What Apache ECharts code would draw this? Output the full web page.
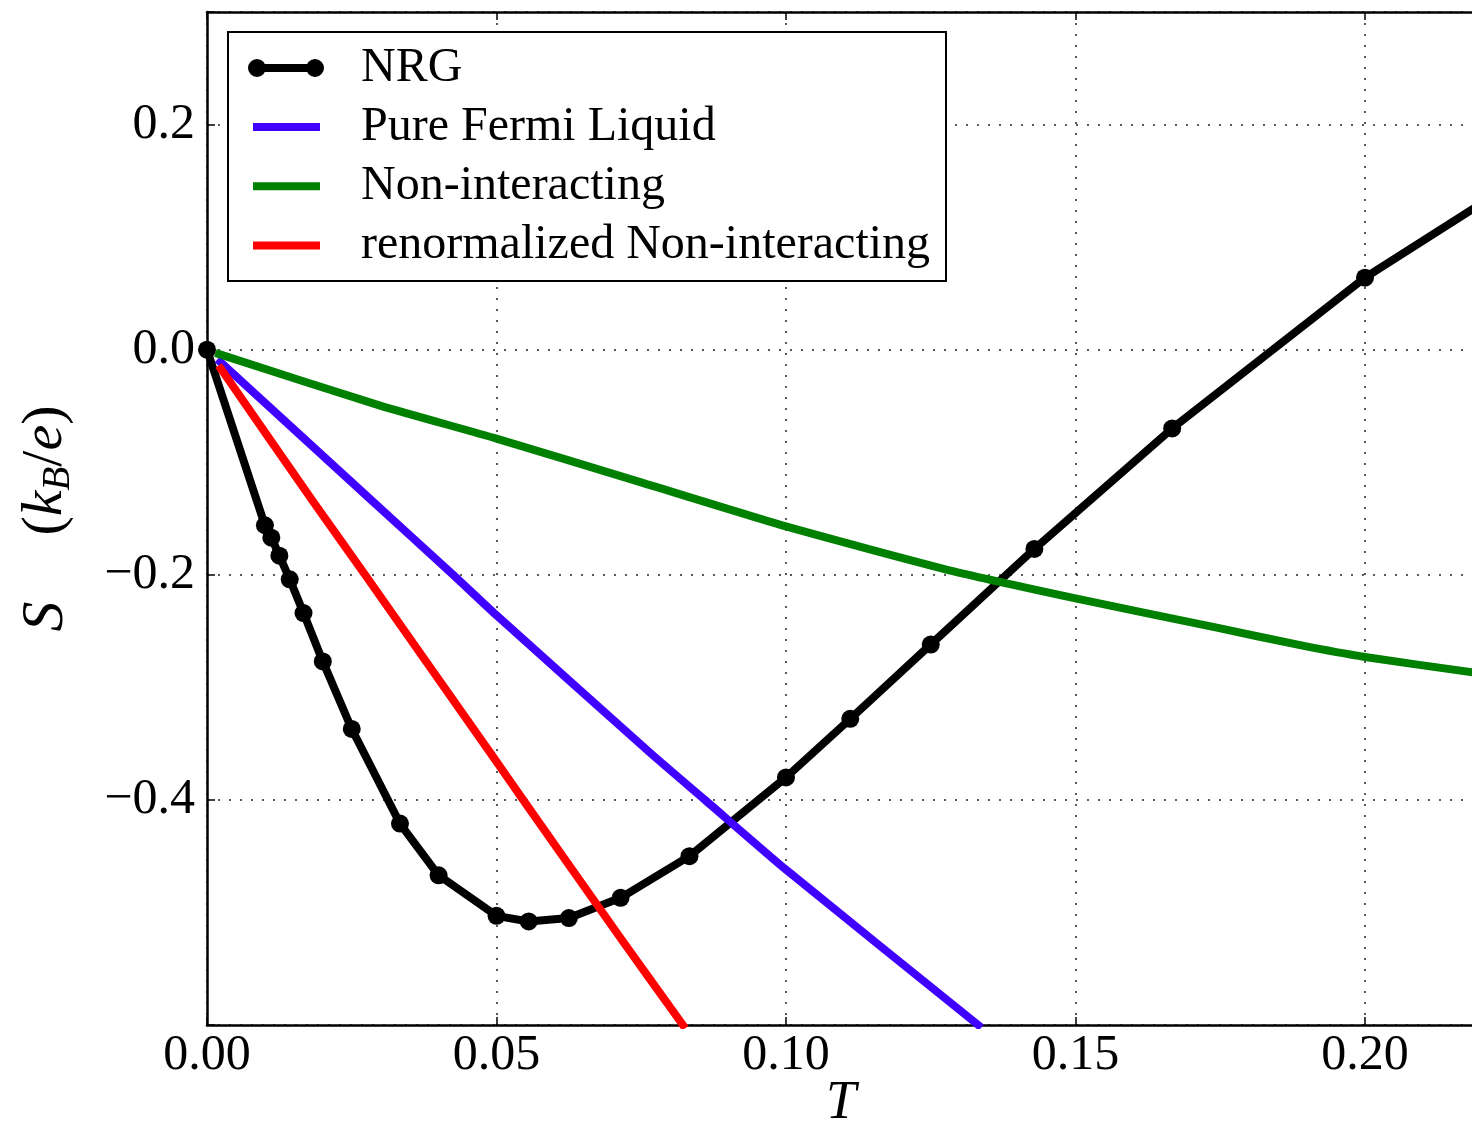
<!DOCTYPE html>
<html>
<head>
<meta charset="utf-8">
<script src="https://cdn.jsdelivr.net/npm/echarts/dist/echarts.min.js"></script>
<style>html,body{margin:0;padding:0;background:#fff}#c{width:1472px;height:1128px}</style>
</head>
<body>
<div id="c"></div>
<script>
// NRG data (T, S)
const nrgT = [0, 0.01, 0.01111, 0.0125, 0.01429, 0.01667, 0.02, 0.025, 0.03333, 0.04, 0.05, 0.05556, 0.0625, 0.07143, 0.08333, 0.1, 0.1111, 0.125, 0.1429, 0.1667, 0.2, 0.25];
const nrgS = [0, -0.156, -0.167, -0.183, -0.204, -0.234, -0.277, -0.337, -0.421, -0.467, -0.503, -0.508, -0.505, -0.487, -0.450, -0.380, -0.328, -0.262, -0.177, -0.070, 0.064, 0.228];
// Pure Fermi Liquid
const fermiT = [0.0023, 0.0276, 0.0425, 0.05, 0.0765, 0.086, 0.1, 0.1332];
const fermiS = [-0.011, -0.130, -0.200, -0.236, -0.358, -0.400, -0.462, -0.600];
// Non-interacting
const nonT = [0.0021, 0.0299, 0.05, 0.0744, 0.1, 0.129, 0.15, 0.1744, 0.1888, 0.2, 0.219];
const nonS = [-0.004, -0.0497, -0.079, -0.117, -0.157, -0.197, -0.221, -0.247, -0.2625, -0.273, -0.287];
// renormalized Non-interacting
const renT = [0.0024, 0.0182, 0.0273, 0.05, 0.0546, 0.0716, 0.0822];
const renS = [-0.017, -0.134, -0.200, -0.366, -0.400, -0.524, -0.600];

const seriesNames = ['NRG', 'Pure Fermi Liquid', 'Non-interacting', 'renormalized Non-interacting'];
const xTicks = [0, 0.05, 0.10, 0.15, 0.20];
const yTicks = [-0.4, -0.2, 0.0, 0.2];

const pairs = (xs, ys) => xs.map((x, i) => [x, ys[i]]);
const FONT = 'Liberation Serif';
const isTick = (v, list) => list.some(t => Math.abs(t - v) < 1e-6);

const chart = echarts.init(document.getElementById('c'), null, {renderer: 'canvas'});

const dumbbell = 'path://M0,9 A9,9 0 1,1 18,9 A9,9 0 1,1 0,9 Z M58,9 A9,9 0 1,1 76,9 A9,9 0 1,1 58,9 Z M9,5 L67,5 L67,13 L9,13 Z';

const lineCommon = {type: 'line', symbol: 'none', clip: true, silent: true, animation: false};

chart.setOption({
  backgroundColor: '#fff',
  animation: false,
  grid: {left: 207, top: 12, right: -3, bottom: 103, containLabel: false, outerBoundsMode: 'none'},
  xAxis: [{
    type: 'value', min: 0, max: 0.219, interval: 0.05, position: 'bottom',
    axisLine: {show: true, onZero: false, lineStyle: {color: '#000', width: 2.5}},
    axisTick: {show: true, inside: true, length: 8, lineStyle: {color: '#000', width: 1.5}},
    axisLabel: {
      margin: 6, fontFamily: FONT, fontSize: 50, color: '#000',
      formatter: v => isTick(v, xTicks) ? v.toFixed(2) : ''
    },
    splitLine: {show: true, lineStyle: {color: '#222', width: 1.5, type: [2, 9]}},
    name: 'T', nameLocation: 'middle', nameGap: 52, nameMoveOverlap: false,
    nameTextStyle: {fontFamily: FONT, fontSize: 54, fontStyle: 'italic', color: '#000'}
  }, {
    type: 'value', min: 0, max: 0.219, interval: 0.05, position: 'top',
    axisLine: {show: true, onZero: false, lineStyle: {color: '#000', width: 2.5}},
    axisTick: {show: true, inside: true, length: 8, lineStyle: {color: '#000', width: 1.5}},
    axisLabel: {show: false},
    splitLine: {show: false}
  }],
  yAxis: {
    type: 'value', min: -0.6, max: 0.3, interval: 0.2,
    axisLine: {show: true, onZero: false, lineStyle: {color: '#000', width: 2.5}},
    axisTick: {show: true, inside: true, length: 8, lineStyle: {color: '#000', width: 1.5}},
    axisLabel: {
      margin: 12, fontFamily: FONT, fontSize: 50, color: '#000',
      formatter: v => {
        if (!isTick(v, yTicks)) return '';
        const r = Math.round(v * 10) / 10;
        const s = Math.abs(r).toFixed(1);
        return r < 0 ? '\u2212' + s : s;
      }
    },
    splitLine: {show: true, lineStyle: {color: '#222', width: 1.5, type: [2, 9]}},
    name: '{s|S}{sp| }{p|(}{i|k}{sub|B}{p|/}{i|e}{p|)}',
    nameLocation: 'middle', nameGap: 129, nameMoveOverlap: false,
    nameTextStyle: {
      color: '#000', fontFamily: FONT, fontSize: 58,
      rich: {
        s: {fontFamily: FONT, fontSize: 60, fontStyle: 'italic', color: '#000', lineHeight: 64},
        sp: {fontFamily: FONT, fontSize: 58, width: 66, lineHeight: 64},
        p: {fontFamily: FONT, fontSize: 58, color: '#000', lineHeight: 64},
        i: {fontFamily: FONT, fontSize: 58, fontStyle: 'italic', color: '#000', lineHeight: 64},
        sub: {fontFamily: FONT, fontSize: 39, fontStyle: 'italic', color: '#000', lineHeight: 39, verticalAlign: 'bottom'}
      }
    }
  },
  graphic: [{
    type: 'rect', z: 3, silent: true,
    shape: {x: 228, y: 32, width: 718, height: 249},
    style: {fill: '#fff', stroke: '#000', lineWidth: 2}
  }],
  legend: [{
    z: 5, left: 248, top: 43, padding: 0, orient: 'vertical', selectedMode: false,
    itemWidth: 76, itemHeight: 18,
    data: [{name: seriesNames[0], icon: dumbbell}],
    textStyle: {fontFamily: FONT, fontSize: 48, color: '#000', lineHeight: 50, padding: [0, 0, 0, 32]}
  }, {
    z: 5, left: 253, top: 102, padding: 0, orient: 'vertical', selectedMode: false,
    itemWidth: 67, itemHeight: 8, itemGap: 9.2,
    data: [
      {name: seriesNames[1], icon: 'rect'},
      {name: seriesNames[2], icon: 'rect'},
      {name: seriesNames[3], icon: 'rect'}
    ],
    textStyle: {fontFamily: FONT, fontSize: 48, color: '#000', lineHeight: 50, padding: [0, 0, 0, 36]}
  }],
  series: [
    Object.assign({}, lineCommon, {
      name: seriesNames[0], data: pairs(nrgT, nrgS),
      symbol: 'circle', symbolSize: 18, showSymbol: true,
      itemStyle: {color: '#000'},
      lineStyle: {color: '#000', width: 8, join: 'round'}
    }),
    Object.assign({}, lineCommon, {
      name: seriesNames[1], data: pairs(fermiT, fermiS),
      smooth: 0.2,
      itemStyle: {color: '#4000ff'},
      lineStyle: {color: '#4000ff', width: 8, cap: 'square', join: 'round'}
    }),
    Object.assign({}, lineCommon, {
      name: seriesNames[2], data: pairs(nonT, nonS),
      smooth: 0.2,
      itemStyle: {color: '#008000'},
      lineStyle: {color: '#008000', width: 8, cap: 'square', join: 'round'}
    }),
    Object.assign({}, lineCommon, {
      name: seriesNames[3], data: pairs(renT, renS),
      smooth: 0.2,
      itemStyle: {color: '#ff0000'},
      lineStyle: {color: '#ff0000', width: 8, cap: 'square', join: 'round'}
    })
  ]
});
</script>
</body>
</html>
